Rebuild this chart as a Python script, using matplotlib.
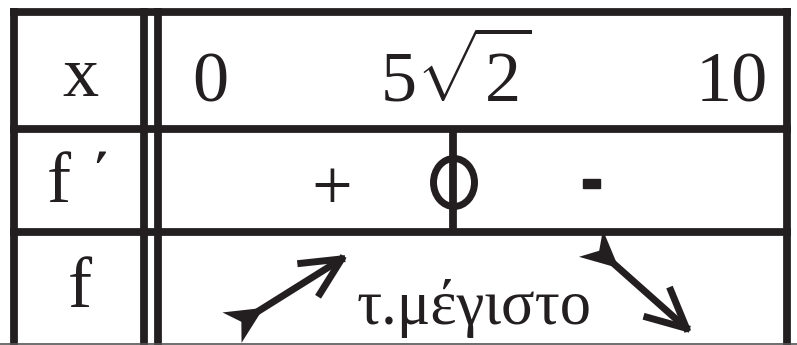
import numpy as np
import matplotlib
matplotlib.use('Agg')
import matplotlib.pyplot as plt
from matplotlib.patches import Ellipse, Rectangle

plt.rcParams['font.family'] = ['Liberation Serif', 'DejaVu Serif']
plt.rcParams['mathtext.fontset'] = 'custom'
plt.rcParams['mathtext.rm'] = 'Liberation Serif'
plt.rcParams['mathtext.it'] = 'Liberation Serif:italic'
plt.rcParams['mathtext.bf'] = 'Liberation Serif:bold'

# Table contents
row_labels = ['x', 'f \u0384', 'f']
x_points = ['0', r'$5\sqrt{2}$', '10']
x_point_pos = [210, 456, 732]
signs = ['+', '-']
sign_pos = [332, 592]
extremum_label = '\u03c4.\u03bc\u03ad\u03b3\u03b9\u03c3\u03c4\u03bf'

INK = '#231f20'
W, H = 797, 345

fig = plt.figure(figsize=(W / 100, H / 100), dpi=100)
ax = fig.add_axes([0, 0, 1, 1])
ax.set_xlim(0, W)
ax.set_ylim(H, 0)
ax.axis('off')

lw = 5.6  # ~8 px

def hline(y, x0, x1):
    ax.plot([x0, x1], [y, y], color=INK, lw=lw, solid_capstyle='butt')

def vline(x, y0, y1):
    ax.plot([x, x], [y0, y1], color=INK, lw=lw, solid_capstyle='butt')

# grid
left, right, top = 14, 787, 11.5
col1, col2 = 144, 158
row_y = [128.5, 232]
hline(top, left - 4, right + 4)
for y in row_y:
    hline(y, left - 4, right + 4)
for x in [left, col1, col2, right]:
    vline(x, top - 4, H)
ax.plot([0, W], [343.5, 343.5], color='#555555', lw=1.2)

# middle line in f' row with the zero
vline(453, row_y[0], row_y[1])
ax.add_patch(Ellipse((454, 182.5), 41, 48, fill=False, ec=INK, lw=5.0))

fs = 52
row_base = [96, 202, 307]
for lab, yb in zip(row_labels, row_base):
    ax.text(80, yb, lab, fontsize=fs, ha='center', va='baseline', color=INK)

for lab, xp in zip(x_points, x_point_pos):
    ax.text(xp, 101, lab, fontsize=fs, ha='center', va='baseline', color=INK)

# signs of f'
ax.text(sign_pos[0], 191, signs[0], fontsize=52, ha='center', va='center', color=INK)
ax.add_patch(Rectangle((sign_pos[1] - 8.5, 179), 17, 9, color=INK))

ax.text(474, 324, extremum_label, fontsize=45, ha='center', va='baseline', color=INK)

def arrow(joint, tip):
    joint, tip = np.array(joint, float), np.array(tip, float)
    u = (tip - joint) / np.linalg.norm(tip - joint)
    n = np.array([-u[1], u[0]])
    ax.plot(*zip(joint - 6 * u, tip), color=INK, lw=5, solid_capstyle='butt')
    for s in (1, -1):
        p = tip - 35 * u + s * 18 * n
        ax.plot(*zip(p, tip + 2 * u), color=INK, lw=5, solid_capstyle='projecting')
        q = joint - 24 * u + s * 13 * n
        ax.fill(*zip(joint + 3 * u, q, joint - 16 * u), color=INK, lw=3, ec=INK)

arrow((257, 312), (340, 260))
arrow((613, 263), (685, 327))

fig.savefig('out.png', dpi=100)
